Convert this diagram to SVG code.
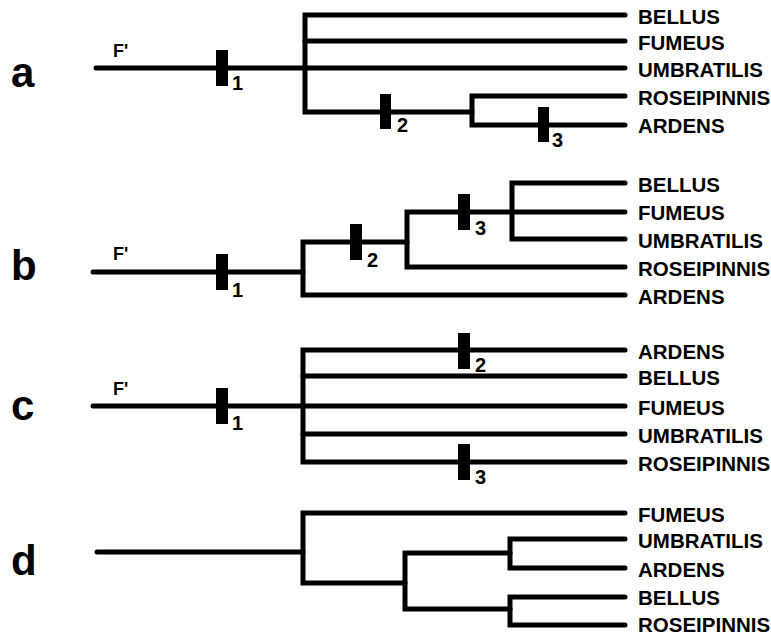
<svg xmlns="http://www.w3.org/2000/svg" width="771" height="636" viewBox="0 0 771 636">
<style>
.br{fill:none;stroke:#000;stroke-width:5;stroke-linejoin:miter;stroke-linecap:round}
.bar{fill:#000}
.tx{font-family:"Liberation Sans",Arial,sans-serif;font-weight:bold;font-size:20.5px;fill:#000}
.num{font-family:"Liberation Sans",Arial,sans-serif;font-weight:bold;font-size:20px;fill:#000}
.fp{font-family:"Liberation Sans",Arial,sans-serif;font-weight:bold;font-size:18px;fill:#000}
.pl{font-family:"Liberation Sans",Arial,sans-serif;font-weight:bold;font-size:42px;fill:#000}
</style>
<rect width="771" height="636" fill="#fff"/>
<g id="connectors">
  <!-- panel a -->
  <path class="br" d="M96,68 H625"/>
  <path class="br" d="M625,15 H305 V112 H472"/>
  <path class="br" d="M305,41 H625"/>
  <path class="br" d="M625,96 H472 V125 H625"/>
  <!-- panel b -->
  <path class="br" d="M93,272 H303"/>
  <path class="br" d="M625,295 H303 V242 H407"/>
  <path class="br" d="M625,267 H407 V212 H625"/>
  <path class="br" d="M625,183 H512 V239 H625"/>
  <!-- panel c -->
  <path class="br" d="M93,406 H625"/>
  <path class="br" d="M625,350 H303 V462 H625"/>
  <path class="br" d="M303,376 H625"/>
  <path class="br" d="M303,434 H625"/>
  <!-- panel d -->
  <path class="br" d="M97,552 H303"/>
  <path class="br" d="M625,513 H303 V583 H405"/>
  <path class="br" d="M510,553 H405 V609 H510"/>
  <path class="br" d="M625,539 H510 V568 H625"/>
  <path class="br" d="M625,597 H510 V625 H625"/>
</g>
<g id="marks">
  <rect class="bar" x="216" y="50" width="12" height="36"/>
  <rect class="bar" x="380" y="94" width="11" height="35"/>
  <rect class="bar" x="538" y="107" width="11" height="35"/>
  <rect class="bar" x="216" y="254" width="12" height="36"/>
  <rect class="bar" x="350" y="224" width="12" height="36"/>
  <rect class="bar" x="458" y="194" width="12" height="36"/>
  <rect class="bar" x="216" y="388" width="12" height="36"/>
  <rect class="bar" x="458" y="333" width="12" height="36"/>
  <rect class="bar" x="458" y="444" width="12" height="36"/>
  <text class="num" x="232" y="90">1</text>
  <text class="num" x="397" y="132">2</text>
  <text class="num" x="552" y="147">3</text>
  <text class="num" x="232" y="297">1</text>
  <text class="num" x="367" y="267">2</text>
  <text class="num" x="475" y="235">3</text>
  <text class="num" x="232" y="430">1</text>
  <text class="num" x="475" y="372">2</text>
  <text class="num" x="475" y="484">3</text>
</g>
<g id="panel-a">
  <text class="pl" x="11" y="87">a</text>
  <text class="fp" x="113" y="57">F'</text>
  <text class="tx" x="638" y="24">BELLUS</text>
  <text class="tx" x="638" y="50">FUMEUS</text>
  <text class="tx" x="638" y="77">UMBRATILIS</text>
  <text class="tx" x="638" y="105">ROSEIPINNIS</text>
  <text class="tx" x="638" y="133">ARDENS</text>
</g>
<g id="panel-b">
  <text class="pl" x="11" y="280">b</text>
  <text class="fp" x="113" y="260">F'</text>
  <text class="tx" x="638" y="192">BELLUS</text>
  <text class="tx" x="638" y="220">FUMEUS</text>
  <text class="tx" x="638" y="248">UMBRATILIS</text>
  <text class="tx" x="638" y="276">ROSEIPINNIS</text>
  <text class="tx" x="638" y="304">ARDENS</text>
</g>
<g id="panel-c">
  <text class="pl" x="11" y="420">c</text>
  <text class="fp" x="113" y="395">F'</text>
  <text class="tx" x="638" y="359">ARDENS</text>
  <text class="tx" x="638" y="385">BELLUS</text>
  <text class="tx" x="638" y="415">FUMEUS</text>
  <text class="tx" x="638" y="443">UMBRATILIS</text>
  <text class="tx" x="638" y="471">ROSEIPINNIS</text>
</g>
<g id="panel-d">
  <text class="pl" x="11" y="575">d</text>
  <text class="tx" x="638" y="522">FUMEUS</text>
  <text class="tx" x="638" y="548">UMBRATILIS</text>
  <text class="tx" x="638" y="577">ARDENS</text>
  <text class="tx" x="638" y="605">BELLUS</text>
  <text class="tx" x="638" y="632">ROSEIPINNIS</text>
</g>
</svg>
